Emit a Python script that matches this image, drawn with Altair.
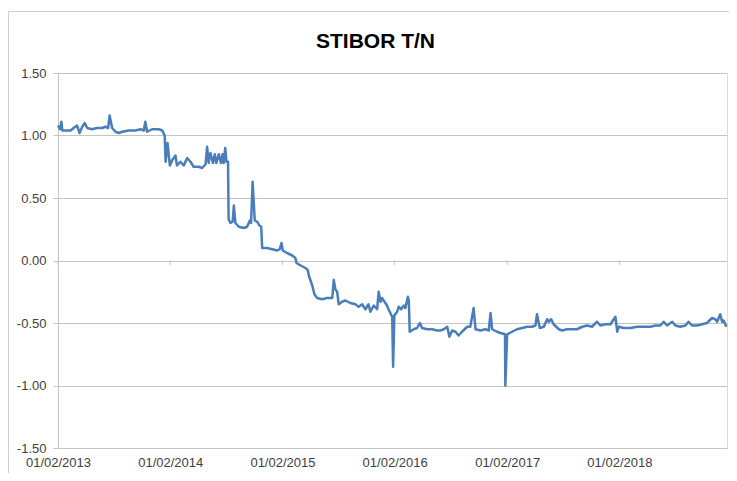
import altair as alt
import pandas as pd

dates = [
    "2013-02-01", "2013-02-08", "2013-02-12", "2013-02-15", "2013-02-25", "2013-03-14",
    "2013-03-24", "2013-04-04", "2013-04-12", "2013-04-21", "2013-04-29", "2013-05-07",
    "2013-05-23", "2013-06-08", "2013-06-25", "2013-07-05", "2013-07-14", "2013-07-19",
    "2013-07-27", "2013-08-07", "2013-08-18", "2013-08-29", "2013-09-19", "2013-10-11",
    "2013-10-27", "2013-11-07", "2013-11-12", "2013-11-18", "2013-12-04", "2013-12-26",
    "2014-01-06", "2014-01-14", "2014-01-17", "2014-01-23", "2014-01-31", "2014-02-07",
    "2014-02-18", "2014-02-23", "2014-03-06", "2014-03-17", "2014-03-28", "2014-04-08",
    "2014-04-18", "2014-05-05", "2014-05-16", "2014-05-27", "2014-06-01", "2014-06-06",
    "2014-06-12", "2014-06-20", "2014-06-26", "2014-07-01", "2014-07-09", "2014-07-16",
    "2014-07-21", "2014-07-25", "2014-07-30", "2014-08-03", "2014-08-08", "2014-08-10",
    "2014-08-16", "2014-08-23", "2014-08-27", "2014-09-01", "2014-09-12", "2014-09-28",
    "2014-10-09", "2014-10-18", "2014-10-22", "2014-10-27", "2014-11-03", "2014-11-11",
    "2014-11-18", "2014-11-24", "2014-11-27", "2014-12-13", "2014-12-30", "2015-01-15",
    "2015-01-23", "2015-01-29", "2015-02-02", "2015-02-16", "2015-03-05", "2015-03-15",
    "2015-03-19", "2015-04-01", "2015-04-17", "2015-04-24", "2015-04-29", "2015-05-09",
    "2015-05-16", "2015-05-25", "2015-06-10", "2015-06-26", "2015-07-13", "2015-07-18",
    "2015-07-23", "2015-07-29", "2015-08-03", "2015-08-14", "2015-08-25", "2015-09-10",
    "2015-09-26", "2015-10-07", "2015-10-18", "2015-10-29", "2015-11-08", "2015-11-14",
    "2015-11-25", "2015-12-06", "2015-12-11", "2015-12-17", "2015-12-22", "2015-12-27",
    "2016-01-02", "2016-01-07", "2016-01-12", "2016-01-24", "2016-01-27", "2016-01-31",
    "2016-02-09", "2016-02-14", "2016-02-22", "2016-03-02", "2016-03-07", "2016-03-15",
    "2016-03-18", "2016-03-21", "2016-04-03", "2016-04-14", "2016-04-23", "2016-04-30",
    "2016-05-17", "2016-06-02", "2016-06-18", "2016-06-29", "2016-07-10", "2016-07-21",
    "2016-07-28", "2016-08-06", "2016-08-17", "2016-08-27", "2016-09-07", "2016-09-24",
    "2016-10-04", "2016-10-15", "2016-10-21", "2016-11-06", "2016-11-22", "2016-12-03",
    "2016-12-09", "2016-12-14", "2016-12-30", "2017-01-10", "2017-01-25", "2017-01-26",
    "2017-02-01", "2017-02-17", "2017-03-05", "2017-03-22", "2017-04-07", "2017-04-23",
    "2017-05-04", "2017-05-09", "2017-05-18", "2017-05-31", "2017-06-11", "2017-06-16",
    "2017-06-24", "2017-07-02", "2017-07-19", "2017-07-30", "2017-08-15", "2017-08-31",
    "2017-09-16", "2017-10-03", "2017-10-19", "2017-11-04", "2017-11-20", "2017-12-01",
    "2017-12-17", "2018-01-03", "2018-01-19", "2018-01-25", "2018-01-30", "2018-02-15",
    "2018-03-09", "2018-03-31", "2018-04-21", "2018-05-13", "2018-05-29", "2018-06-14",
    "2018-06-25", "2018-07-06", "2018-07-23", "2018-08-02", "2018-08-18", "2018-09-04",
    "2018-09-14", "2018-09-25", "2018-10-12", "2018-10-28", "2018-11-13", "2018-11-29",
    "2018-12-10", "2018-12-16", "2018-12-26", "2019-01-01", "2019-01-06", "2019-01-15",
]
rates = [
    1.08, 1.05, 1.11, 1.04, 1.04, 1.04,
    1.06, 1.08, 1.02, 1.07, 1.10, 1.06,
    1.05, 1.06, 1.06, 1.07, 1.06, 1.16,
    1.06, 1.03, 1.02, 1.03, 1.04, 1.04,
    1.05, 1.04, 1.11, 1.03, 1.05, 1.05,
    1.04, 1.00, 0.79, 0.94, 0.76, 0.80,
    0.84, 0.76, 0.79, 0.76, 0.82, 0.79,
    0.75, 0.75, 0.74, 0.77, 0.91, 0.78,
    0.86, 0.78, 0.85, 0.78, 0.85, 0.78,
    0.85, 0.78, 0.90, 0.79, 0.79, 0.33,
    0.30, 0.31, 0.44, 0.30, 0.27, 0.26,
    0.27, 0.32, 0.30, 0.63, 0.32, 0.31,
    0.28, 0.27, 0.10, 0.10, 0.09, 0.08,
    0.09, 0.14, 0.08, 0.06, 0.04, 0.02,
    -0.02, -0.04, -0.06, -0.075, -0.13, -0.20,
    -0.27, -0.30, -0.31, -0.30, -0.30, -0.155,
    -0.23, -0.25, -0.35, -0.33, -0.32, -0.34,
    -0.35, -0.37, -0.35, -0.39, -0.35, -0.41,
    -0.36, -0.39, -0.25, -0.33, -0.30, -0.32,
    -0.34, -0.36, -0.39, -0.45, -0.85, -0.44,
    -0.41, -0.37, -0.39, -0.36, -0.38, -0.29,
    -0.32, -0.57, -0.55, -0.54, -0.50, -0.54,
    -0.55, -0.55, -0.56, -0.56, -0.55, -0.53,
    -0.61, -0.56, -0.57, -0.60, -0.57, -0.53,
    -0.53, -0.38, -0.55, -0.56, -0.55, -0.56,
    -0.42, -0.55, -0.57, -0.58, -0.59, -1.00,
    -0.59, -0.57, -0.55, -0.54, -0.53, -0.53,
    -0.52, -0.43, -0.54, -0.53, -0.47, -0.49,
    -0.47, -0.51, -0.55, -0.56, -0.55, -0.55,
    -0.55, -0.53, -0.52, -0.53, -0.49, -0.52,
    -0.51, -0.51, -0.45, -0.57, -0.53, -0.54,
    -0.54, -0.53, -0.53, -0.53, -0.52, -0.52,
    -0.49, -0.52, -0.49, -0.52, -0.53, -0.52,
    -0.49, -0.52, -0.52, -0.51, -0.50, -0.46,
    -0.47, -0.49, -0.43, -0.49, -0.48, -0.53,
]

tick_years = [2013, 2014, 2015, 2016, 2017, 2018]
tick_dates = [f"{y}-02-01" for y in tick_years]
y_ticks = [-1.5, -1.0, -0.5, 0.0, 0.5, 1.0, 1.5]

GRID = "#c4c4c4"
LABEL = "#404040"
FONT = "Liberation Sans"

df = pd.DataFrame({"date": dates, "rate": rates})
ticks_df = pd.DataFrame({"date": tick_dates})

x_scale = alt.Scale(
    type="utc",
    domain=[alt.DateTime(year=2013, month=2, date=1, utc=True),
            alt.DateTime(year=2019, month=1, date=17, utc=True)],
)
y_scale = alt.Scale(domain=[-1.5, 1.5], nice=False, zero=False)

x_axis = alt.Axis(
    values=[alt.DateTime(year=y, month=2, date=1, utc=True) for y in tick_years],
    labelExpr="utcFormat(datum.value, '%d/%m/%Y')",
    grid=False, domain=False, ticks=False, tickSize=0,
    labelFlush=False, labelOverlap=False, labelPadding=8,
    labelFont=FONT, labelFontSize=13, labelColor=LABEL, title=None,
)
y_axis = alt.Axis(
    values=y_ticks,
    labelExpr="(datum.value < 0 ? '-' : '') + format(abs(datum.value), '.2f')",
    grid=True, gridColor=GRID, gridWidth=1,
    domain=True, domainColor=GRID, ticks=True, tickColor=GRID, tickSize=5,
    labelPadding=7, labelFont=FONT, labelFontSize=13, labelColor=LABEL, title=None,
)

frame = alt.Chart(pd.DataFrame({"k": [0]})).mark_rect(
    fillOpacity=0, stroke="#d0d0d0", strokeWidth=1
).encode(
    x=alt.value(-49.5), x2=alt.value(700), y=alt.value(-61.5), y2=alt.value(430)
)

line = alt.Chart(df).mark_line(
    color="#4a7ebb", strokeWidth=2.5, strokeJoin="round"
).encode(
    x=alt.X("date:T", scale=x_scale, axis=x_axis),
    y=alt.Y("rate:Q", scale=y_scale, axis=y_axis),
)

zero_ticks = alt.Chart(ticks_df).mark_rule(color=GRID, strokeWidth=1).encode(
    x=alt.X("date:T", scale=x_scale),
    y=alt.datum(0.0),
    y2=alt.datum(-0.035),
)

chart = alt.layer(frame, zero_ticks, line).properties(
    width=669,
    height=375,
    padding={"left": 50, "top": 65, "right": 2, "bottom": 25},
    autosize=alt.AutoSizeParams(type="none"),
    title=alt.TitleParams(
        "STIBOR T/N", font=FONT, fontSize=21, fontWeight="bold", color="#000000",
        anchor="middle", frame="group", baseline="alphabetic", offset=-57.5, dx=-17,
    ),
).configure_view(stroke=None).configure(background="white")

chart.save("out.html", embed_options={"renderer": "svg", "actions": False})
